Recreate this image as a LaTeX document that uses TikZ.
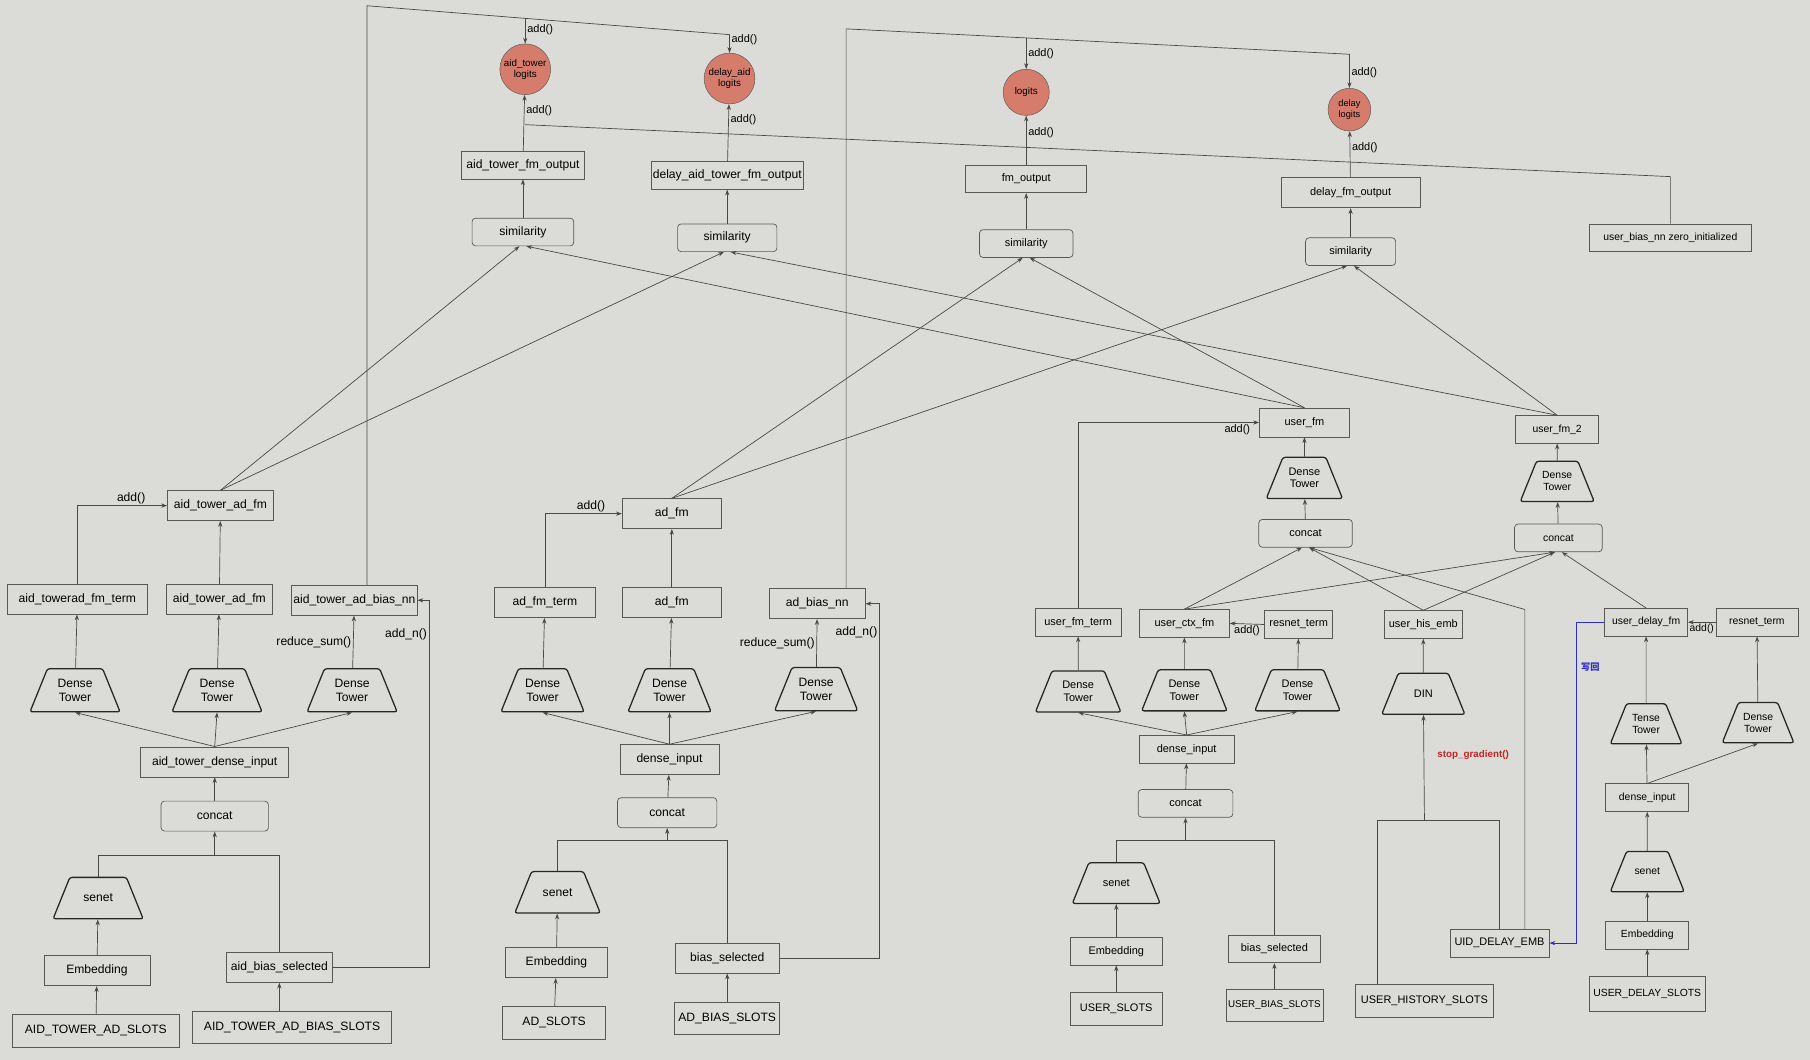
\documentclass[tikz,border=0pt]{standalone}
\usepackage{fontspec}
\setmainfont{Liberation Sans}
\newfontfamily\cjk{Noto Sans CJK SC}
\usetikzlibrary{arrows.meta,shapes.geometric,calc}

\definecolor{paper}{RGB}{219,220,215}
\definecolor{wire}{RGB}{72,72,72}
\definecolor{edgegray}{RGB}{88,88,88}
\definecolor{logitred}{RGB}{214,124,108}
\definecolor{gradred}{RGB}{196,36,36}
\definecolor{backblue}{RGB}{46,46,196}

\tikzset{
  box/.style={draw=edgegray, line width=0.6pt, rectangle, minimum height=24pt, inner xsep=1.5pt, inner ysep=2pt},
  rbox/.style={box, rounded corners=3pt},
  tower/.style={draw=black!85, line width=1.1pt, trapezium, trapezium left angle=68, trapezium right angle=68,
    trapezium stretches body, rounded corners=2pt, minimum width=#1, align=center, inner xsep=1pt, inner ysep=9pt},
  tower/.default=76pt,
  oneline/.style={inner ysep=14.5pt},
  logit/.style={circle, draw=edgegray, fill=logitred, minimum size=#1, inner sep=0pt, align=center,
    font=\fontsize{8.5}{9.5}\selectfont},
  logit/.default=44pt,
  link/.style={draw=wire, line width=0.6pt, ->},
  wireline/.style={draw=wire, line width=0.6pt},
  lab/.style={inner sep=1.5pt},
}

\begin{document}
\begin{tikzpicture}[x=1pt, y=-1pt, >={Stealth[length=5pt,width=3.6pt]}, font=\fontsize{9.5}{11}\selectfont]
  \fill[paper] (0,0) rectangle (1568,918);
  \useasboundingbox (0,0) rectangle (1568,918);

  % logits
  \node[logit] (atlog) at (455,60) {aid\_tower\\logits};
  \node[logit] (dalog) at (632,68) {delay\_aid\\logits};
  \node[logit=40pt] (lg) at (889,80) {logits};
  \node[logit=37pt, font=\fontsize{8}{9}\selectfont] (dlog) at (1169,95) {delay\\logits};

  % aid tower side
  \begin{scope}[font=\fontsize{10.5}{12}\selectfont]
    \node[box, minimum width=92pt, minimum height=26pt] (atadfm) at (191,438) {aid\_tower\_ad\_fm};
    \node[box, minimum width=121pt, minimum height=26pt] (atterm) at (67,519) {aid\_towerad\_fm\_term};
    \node[box, minimum width=92pt, minimum height=26pt] (atfm) at (190,519) {aid\_tower\_ad\_fm};
    \node[box, minimum width=106pt, minimum height=26pt] (atbias) at (307,520) {aid\_tower\_ad\_bias\_nn};
    \node[tower=78pt] (atdt1) at (65,598) {Dense\\Tower};
    \node[tower=78pt] (atdt2) at (188,598) {Dense\\Tower};
    \node[tower=78pt] (atdt3) at (305,598) {Dense\\Tower};
    \node[box, minimum width=128pt, minimum height=26pt] (atdin) at (186,660) {aid\_tower\_dense\_input};
    \node[rbox, minimum width=93pt, minimum height=26pt] (atcat) at (186,707) {concat};
    \node[tower=78pt, oneline] (atsenet) at (85,778) {senet};
    \node[box, minimum width=92pt, minimum height=26pt] (atemb) at (84,841) {Embedding};
    \node[box, minimum width=92pt, minimum height=26pt] (atbsel) at (242,838) {aid\_bias\_selected};
    \node[box, minimum width=145pt, minimum height=28pt] (atslots) at (83,893) {AID\_TOWER\_AD\_SLOTS};
    \node[box, minimum width=172pt, minimum height=28pt] (atbslots) at (253,890) {AID\_TOWER\_AD\_BIAS\_SLOTS};

    \draw[link] (atslots) -- (atemb);
    \draw[link] (atemb) -- (atsenet);
    \draw[link] (atbsel |- atbslots.north) -- (atbsel);
    \coordinate (atj) at (186,741);
    \draw[wireline] (atsenet.north) |- (atj) -| (atbsel.north);
    \draw[link] (atj) -- (atcat);
    \draw[link] (atcat) -- (atdin);
    \foreach \t in {atdt1,atdt2,atdt3}
      \draw[link] (atdin.north) -- (\t.south);
    \draw[link] (atdt1) -- (atterm);
    \draw[link] (atdt2) -- (atfm);
    \draw[link] (atdt3) -- node[lab, left] {reduce\_sum()} (atbias);
    \draw[link] (atfm) -- (atadfm);
    \draw[link] (atterm.north) |- node[lab, above, pos=0.8] {add()} (atadfm.west);
    \draw[link] (atbsel.east) -| node[lab, left, pos=0.953] {add\_n()} ([xshift=10pt]atbias.east) -- (atbias.east);
  \end{scope}

  % ad side and left outputs
  \begin{scope}[font=\fontsize{10.5}{12}\selectfont]
    \node[box, minimum width=106pt] (atout) at (453,143) {aid\_tower\_fm\_output};
    \node[box, minimum width=132pt] (daout) at (630,152) {delay\_aid\_tower\_fm\_output};
    \node[rbox, minimum width=88pt] (sim1) at (453,201) {similarity};
    \node[rbox, minimum width=86pt] (sim2) at (630,206) {similarity};
    \node[box, minimum width=86pt, minimum height=26pt] (adfm) at (582,445) {ad\_fm};
    \node[box, minimum width=88pt, minimum height=26pt] (adterm) at (472,522) {ad\_fm\_term};
    \node[box, minimum width=85pt, minimum height=26pt] (adfm2) at (582,522) {ad\_fm};
    \node[box, minimum width=83pt, minimum height=26pt] (adbias) at (708,523) {ad\_bias\_nn};
    \node[tower=72pt] (addt1) at (470,598) {Dense\\Tower};
    \node[tower=72pt] (addt2) at (580,598) {Dense\\Tower};
    \node[tower=72pt] (addt3) at (707,597) {Dense\\Tower};
    \node[box, minimum width=86pt, minimum height=26pt] (addin) at (580,658) {dense\_input};
    \node[rbox, minimum width=86pt, minimum height=26pt] (adcat) at (578,704) {concat};
    \node[tower=74pt, oneline] (adsenet) at (483,773) {senet};
    \node[box, minimum width=89pt, minimum height=26pt] (ademb) at (482,834) {Embedding};
    \node[box, minimum width=90pt, minimum height=26pt] (adbsel) at (630,830) {bias\_selected};
    \node[box, minimum width=89pt, minimum height=28pt] (adslots) at (480,886) {AD\_SLOTS};
    \node[box, minimum width=91pt, minimum height=28pt] (adbslots) at (630,882) {AD\_BIAS\_SLOTS};

    \draw[link] (adslots) -- (ademb);
    \draw[link] (ademb) -- (adsenet);
    \draw[link] (adbslots) -- (adbsel);
    \coordinate (adj) at (578,728);
    \draw[wireline] (adsenet.north) |- (adj) -| (adbsel.north);
    \draw[link] (adj) -- (adcat);
    \draw[link] (adcat) -- (addin);
    \foreach \t in {addt1,addt2,addt3}
      \draw[link] (addin.north) -- (\t.south);
    \draw[link] (addt1) -- (adterm);
    \draw[link] (addt2) -- (adfm2);
    \draw[link] (addt3) -- node[lab, left] {reduce\_sum()} (adbias);
    \draw[link] (adfm2) -- (adfm);
    \draw[link] (adterm.north) |- node[lab, above, pos=0.8] {add()} (adfm.west);
    \draw[link] (adbsel.east) -| node[lab, left, pos=0.96] {add\_n()} ([xshift=12pt]adbias.east) -- (adbias.east);
  \end{scope}

  % user side
  \begin{scope}[font=\fontsize{9.5}{11}\selectfont]
    \node[box, minimum width=105pt] (fmout) at (889,155) {fm\_output};
    \node[box, minimum width=120pt, minimum height=26pt] (dfmout) at (1170,167) {delay\_fm\_output};
    \node[rbox, minimum width=81pt] (sim3) at (889,211) {similarity};
    \node[rbox, minimum width=78pt] (sim4) at (1170,218) {similarity};
    \node[box, minimum width=78pt, minimum height=25pt] (ufm) at (1130,366) {user\_fm};
    \node[tower=66pt] (udt) at (1130,414) {Dense\\Tower};
    \node[rbox, minimum width=81pt] (ucat) at (1131,462) {concat};
    \node[box, minimum width=74pt] (uterm) at (934,539) {user\_fm\_term};
    \node[box, minimum width=78pt] (uctx) at (1026,540) {user\_ctx\_fm};
    \node[box, minimum width=59pt] (ures) at (1125,541) {resnet\_term};
    \node[box, minimum width=67pt] (uhis) at (1233,541) {user\_his\_emb};
    \node[tower=74pt] (udt1) at (934,599) {Dense\\Tower};
    \node[tower=74pt] (udt2) at (1026,598) {Dense\\Tower};
    \node[tower=74pt] (udt3) at (1124,598) {Dense\\Tower};
    \node[tower=72pt, oneline] (udin) at (1233,601) {DIN};
    \node[box, minimum width=82pt] (udense) at (1028,649) {dense\_input};
    \node[rbox, minimum width=82pt] (ucat3) at (1027,696) {concat};
    \node[tower=76pt, oneline] (usenet) at (967,765) {senet};
    \node[box, minimum width=79pt] (uemb) at (967,824) {Embedding};
    \node[box, minimum width=79pt] (ubsel) at (1104,822) {bias\_selected};
    \node[box, minimum width=80pt, minimum height=28pt] (uslots) at (967,874) {USER\_SLOTS};
    \node[box, minimum width=84pt, minimum height=28pt, font=\fontsize{8.5}{10}\selectfont] (ubslots) at (1104,871) {USER\_BIAS\_SLOTS};
    \node[box, minimum width=120pt, minimum height=28pt] (uhist) at (1234,867) {USER\_HISTORY\_SLOTS};
    \node[box, minimum width=86pt] (uidemb) at (1299,817) {UID\_DELAY\_EMB};

    \draw[link] (uslots) -- (uemb);
    \draw[link] (uemb) -- (usenet);
    \draw[link] (ubslots) -- (ubsel);
    \coordinate (uj) at (1027,728);
    \draw[wireline] (usenet.north) |- (uj) -| (ubsel.north);
    \draw[link] (uj) -- (ucat3);
    \draw[link] (ucat3) -- (udense);
    \foreach \t in {udt1,udt2,udt3}
      \draw[link] (udense.north) -- (\t.south);
    \draw[link] (udt1) -- (uterm);
    \draw[link] (udt2) -- (uctx);
    \draw[link] (udt3) -- (ures);
    \draw[link] (ures.west) -- node[lab, below] {add()} (uctx.east);
    \draw[link] (uterm.north) |- node[lab, below, pos=0.94] {add()} (ufm.west);
    \draw[link] (ucat) -- (udt);
    \draw[link] (udt) -- (ufm);
    \draw[link] (uctx.north) -- ([xshift=-3pt]ucat.south);
    \draw[link] (uhis.north) -- ([xshift=3pt]ucat.south);
    \coordinate (ujc) at (1321,528);
    \draw[link] (uidemb.north -| ujc) -- (ujc) -- ([xshift=3pt]ucat.south);
    \draw[link] (udin) -- (uhis);
    \coordinate (dj) at (1234,711);
    \draw[wireline] ([xshift=-41pt]uhist.north) |- (dj) -| (uidemb.north);
    \draw[link] (dj) -- node[lab, right, pos=0.62, xshift=10pt, text=gradred, font=\bfseries\fontsize{8.5}{10}\selectfont] {stop\_gradient()} (udin);
  \end{scope}

  % delay side
  \begin{scope}[font=\fontsize{9}{10.5}\selectfont]
    \node[box, minimum width=140pt] (ubias) at (1447,206) {user\_bias\_nn zero\_initialized};
    \node[box, minimum width=72pt] (ufm2) at (1349,372) {user\_fm\_2};
    \node[tower=64pt] (u2dt) at (1349,417) {Dense\\Tower};
    \node[rbox, minimum width=76pt] (ucat2) at (1350,466) {concat};
    \node[box, minimum width=72pt] (udfm) at (1426,539) {user\_delay\_fm};
    \node[box, minimum width=71pt] (dres) at (1522,539) {resnet\_term};
    \node[tower=62pt] (dtt) at (1426,627) {Tense\\Tower};
    \node[tower=62pt] (ddt) at (1523,626) {Dense\\Tower};
    \node[box, minimum width=72pt] (ddense) at (1427,691) {dense\_input};
    \node[tower=64pt, oneline] (dsenet) at (1427,755) {senet};
    \node[box, minimum width=72pt] (demb) at (1427,810) {Embedding};
    \node[box, minimum width=101pt, minimum height=30pt] (dslots) at (1427,861) {USER\_DELAY\_SLOTS};

    \draw[link] (dslots) -- (demb);
    \draw[link] (demb) -- (dsenet);
    \draw[link] (dsenet) -- (ddense);
    \draw[link] (ddense) -- (dtt);
    \draw[link] (ddense.north) -- (ddt.south);
    \draw[link] (dtt) -- (udfm);
    \draw[link] (ddt) -- (dres);
    \draw[link] (dres.west) -- node[lab, below] {add()} (udfm.east);
    \draw[link] (ucat2) -- (u2dt);
    \draw[link] (u2dt) -- (ufm2);
    \draw[link] (uctx.north) -- ([xshift=-3pt]ucat2.south);
    \draw[link] (uhis.north) -- ([xshift=-3pt]ucat2.south);
    \draw[link] (udfm.north) -- ([xshift=3pt]ucat2.south);
    % write back
    \coordinate (bk) at (1366,0);
    \draw[link, draw=backblue] (udfm.west) -| node[pos=0.57, right, text=backblue, font=\cjk\bfseries\fontsize{8}{9}\selectfont] {写回} (bk |- uidemb.east) -- (uidemb.east);
  \end{scope}

  % outputs into logits
  \draw[link] (sim1) -- (atout);
  \draw[link] (sim2) -- (daout);
  \draw[link] (sim3) -- (fmout);
  \draw[link] (sim4) -- (dfmout);
  \draw[link] (atout) -- node[lab, right, pos=0.72] {add()} (atlog);
  \draw[link] (daout) -- node[lab, right, pos=0.72] {add()} (dalog);
  \draw[link] (fmout) -- node[lab, right, pos=0.65] {add()} (lg);
  \draw[link] (dfmout) -- node[lab, right, pos=0.65] {add()} (dlog);

  % bias bus
  \coordinate (bb1) at (455,108);
  \coordinate (bb5) at (1447,153);
  \draw[wireline] (ubias.north) -- (bb5) -- (bb1);

  % bias_nn lines over the top
  \coordinate (ta1) at (318,5);
  \coordinate (ta2) at (455,16);
  \coordinate (ta3) at (632,30);
  \draw[link] ([xshift=11pt]atbias.north) -- (ta1) -- (ta3) -- node[lab, right, pos=0.3] {add()} (dalog);
  \draw[link] (ta2) -- node[lab, right, pos=0.45] {add()} (atlog);
  \coordinate (tb1) at (733,25);
  \coordinate (tb2) at (889,33);
  \coordinate (tb3) at (1169,47);
  \draw[link] ([xshift=25pt]adbias.north) -- (tb1) -- (tb3) -- node[lab, right, pos=0.55] {add()} (dlog);
  \draw[link] (tb2) -- node[lab, right, pos=0.5] {add()} (lg);

  % fm vectors into similarity
  \draw[link] (atadfm.north) -- ([xshift=-3pt]sim1.south);
  \draw[link] (atadfm.north) -- ([xshift=-3pt]sim2.south);
  \draw[link] (ufm.north) -- ([xshift=3pt]sim1.south);
  \draw[link] (ufm2.north) -- ([xshift=3pt]sim2.south);
  \draw[link] (adfm.north) -- ([xshift=-3pt]sim3.south);
  \draw[link] (ufm.north) -- ([xshift=3pt]sim3.south);
  \draw[link] (adfm.north) -- ([xshift=-3pt]sim4.south);
  \draw[link] (ufm2.north) -- ([xshift=3pt]sim4.south);
\end{tikzpicture}
\end{document}
